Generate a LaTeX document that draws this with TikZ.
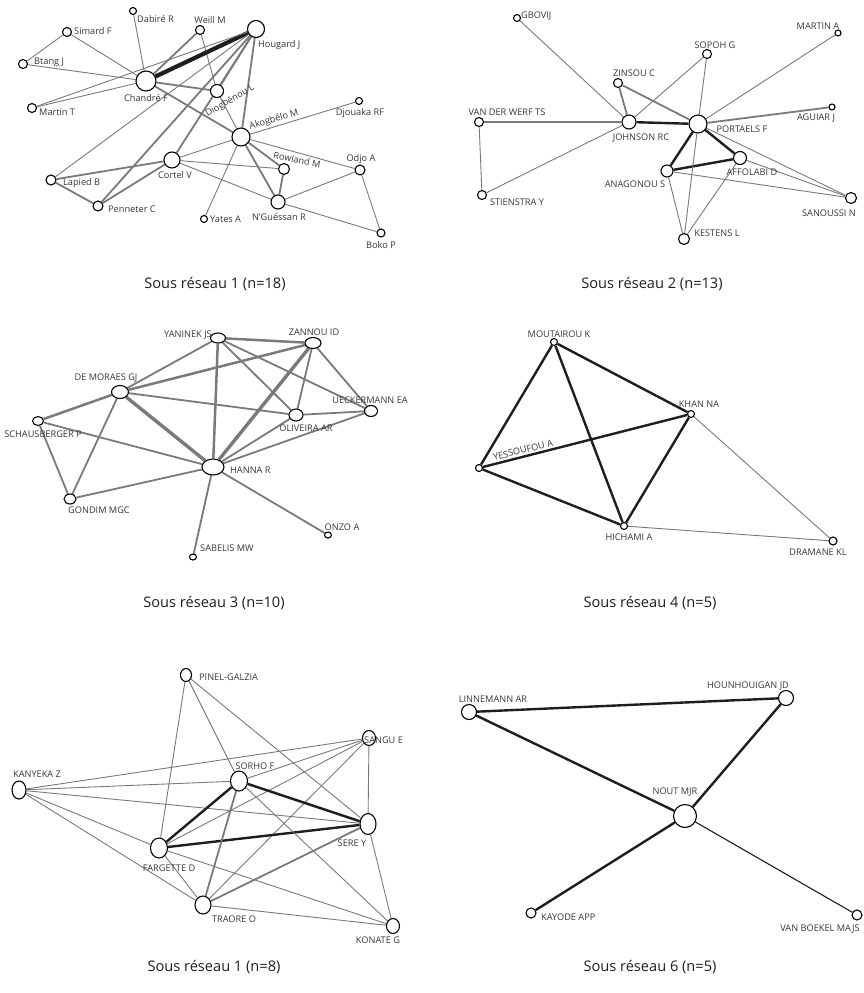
\documentclass[tikz,border=0pt]{standalone}
\usepackage{fontspec}
\setmainfont{Open Sans}
\usetikzlibrary{shapes.geometric,backgrounds}
\definecolor{edg}{RGB}{122,122,122}
\definecolor{blk}{RGB}{30,30,30}
\definecolor{labc}{RGB}{55,55,55}
\begin{document}
\begin{tikzpicture}[x=1pt,y=-1pt,
  nd/.style={ellipse,draw=black,fill=white,line width=1.1pt,inner sep=0pt},
  lbl/.style={font=\fontsize{9.2}{10}\selectfont,text=labc,inner sep=0pt},
  ulbl/.style={font=\fontsize{9.2}{10}\selectfont,text=labc,inner sep=0pt},
  captxt/.style={font=\fontsize{14.6}{16}\selectfont,text=blk,inner sep=0pt},
  thn/.style={draw=edg,line width=0.9pt},
  med/.style={draw=edg,line width=1.8pt},
  thk/.style={draw=edg,line width=2.5pt},
  vthk/.style={draw=edg,line width=3.4pt},
  bk/.style={draw=blk,line width=2.4pt},
  bkthn/.style={draw=blk,line width=1.1pt},
  bkvthk/.style={draw=blk,line width=4.2pt}]
\begin{scope}[on background layer]
\fill[white] (0,0) rectangle (864,993);
\end{scope}
\useasboundingbox (0,0) rectangle (864,993);
\newcommand{\mkc}[4]{\node[nd,minimum width=#3pt,minimum height=#3pt] (#1) at (#2) {};}
\newcommand{\mke}[5]{\node[nd,minimum width=#3pt,minimum height=#4pt] (#1) at (#2) {};}
% ---------------- Panel 1
\mkc{simard}{67,32}{9}{}
\mkc{btang}{23,64}{9}{}
\mkc{dabire}{133,11}{7}{}
\mkc{weill}{200,30}{9}{}
\mkc{hougard}{256,29}{17}{}
\mkc{chandre}{146,81}{20}{}
\mkc{martint}{32,108}{9}{}
\mkc{diog}{217,91}{13}{}
\mkc{akog}{241,137}{18}{}
\mkc{djouaka}{359,101}{7}{}
\mkc{cortel}{172,160}{16}{}
\mkc{rowland}{284,169}{11}{}
\mkc{odjo}{360,170}{10}{}
\mkc{lapied}{51,180}{10}{}
\mkc{penneter}{98,206}{10}{}
\mkc{nguessan}{278,202}{14}{}
\mkc{yates}{204,219}{7}{}
\mkc{boko}{381,233}{8}{}
\node[lbl,anchor=west] (lsimard) at (74,31) {Simard F};
\node[lbl,anchor=west] (lbtang) at (34,62) {Btang J};
\node[lbl,anchor=west] (ldabire) at (137,19) {Dabiré R};
\node[lbl] (lweill) at (210,20) {Weill M};
\node[lbl,anchor=west] (lhougard) at (258,45) {Hougard J};
\node[lbl] (lchandre) at (146,98) {Chandré F};
\node[lbl,anchor=west] (lmartint) at (39,112) {Martin T};
\node[lbl,rotate=30] (ldiog) at (230,101) {Diogbénou L};
\node[lbl,rotate=16] (lakog) at (274,120) {Akogbélo M};
\node[lbl] (ldjouaka) at (360,113) {Djouaka RF};
\node[lbl,rotate=-11] (lrowland) at (297,160) {Rowland M};
\node[lbl] (lodjo) at (361,159) {Odjo A};
\node[lbl] (lcortel) at (175,175) {Cortel V};
\node[lbl,anchor=west] (llapied) at (63,183) {Lapied B};
\node[lbl,anchor=west] (lpenneter) at (108,209) {Penneter C};
\node[lbl] (lnguessan) at (279,217) {N’Guéssan R};
\node[lbl,anchor=west] (lyates) at (210,219) {Yates A};
\node[lbl] (lboko) at (381,245) {Boko P};
\node[captxt] (cap1) at (215,284) {Sous réseau 1 (n=18)};
% ---------------- Panel 2
\mkc{gbovij}{517,18}{7}{}
\mkc{martina}{838,33}{6}{}
\mkc{sopoh}{707,54}{9}{}
\mkc{zinsou}{618,83}{9}{}
\mkc{vdw}{479,122}{9}{}
\mkc{johnson}{629,122}{14}{}
\mkc{portaels}{698,124}{18}{}
\mkc{aguiar}{832,107}{6}{}
\mkc{affolabi}{740,158}{13}{}
\mkc{anagonou}{667,171}{12}{}
\mkc{stienstra}{482,195}{9}{}
\mkc{sanoussi}{851,198}{11}{}
\mkc{kestens}{684,239}{11}{}
\node[ulbl,anchor=west] (lgbovij) at (521,16) {GBOVIJ};
\node[ulbl] (lmartina) at (818,26) {MARTIN A};
\node[ulbl] (lsopoh) at (715,45) {SOPOH G};
\node[ulbl] (lzinsou) at (634,73) {ZINSOU C};
\node[ulbl] (lvdw) at (507,112) {VAN DER WERF TS};
\node[ulbl] (ljohnson) at (641,138) {JOHNSON RC};
\node[ulbl] (lportaels) at (742,129) {PORTAELS F};
\node[ulbl] (laguiar) at (816,118) {AGUIAR J};
\node[ulbl] (laffolabi) at (752,172) {AFFOLABI D};
\node[ulbl] (lanagonou) at (635,184) {ANAGONOU S};
\node[ulbl] (lstienstra) at (517,202) {STIENSTRA Y};
\node[ulbl] (lsanoussi) at (829,213) {SANOUSSI N};
\node[ulbl] (lkestens) at (717,233) {KESTENS L};
\node[captxt] (cap2) at (652,284) {Sous réseau 2 (n=13)};
% ---------------- Panel 3
\mke{yaninek}{218,338}{15}{10}{}
\mke{zannou}{313,343}{16}{11}{}
\mke{demoraes}{120,392}{17}{13}{}
\mke{schaus}{38,421}{11}{9}{}
\mke{oliveira}{296,415}{14}{12}{}
\mke{ueck}{371,411}{13}{11}{}
\mke{hanna}{213,467}{22}{16}{}
\mke{gondim}{70,499}{12}{10}{}
\mke{onzo}{328,535}{7}{6}{}
\mke{sabelis}{193,557}{7}{6}{}
\node[ulbl] (lyaninek) at (188,335) {YANINEK JS};
\node[ulbl] (lzannou) at (314,332) {ZANNOU ID};
\node[ulbl] (ldemoraes) at (106,378) {DE MORAES GJ};
\node[ulbl] (lschaus) at (43,434) {SCHAUSBERGER P};
\node[ulbl] (loliveira) at (306,428) {OLIVEIRA AR};
\node[ulbl] (lueck) at (370,400) {UECKERMANN EA};
\node[ulbl,anchor=west] (lhanna) at (230,470) {HANNA R};
\node[ulbl] (lgondim) at (99,510) {GONDIM MGC};
\node[ulbl] (lonzo) at (342,527) {ONZO A};
\node[ulbl,anchor=west] (lsabelis) at (200,548) {SABELIS MW};
\node[captxt] (cap3) at (214,603) {Sous réseau 3 (n=10)};
% ---------------- Panel 4
\mkc{mout}{554,342}{7}{}
\mkc{khan}{691,414}{7}{}
\mkc{yess}{479,468}{7}{}
\mkc{hich}{624,526}{7}{}
\mkc{dramane}{833,541}{8}{}
\node[ulbl] (lmout) at (559,334) {MOUTAIROU K};
\node[ulbl] (lkhan) at (699,404) {KHAN NA};
\node[ulbl,rotate=14] (lyess) at (523,450) {YESSOUFOU A};
\node[ulbl] (lhich) at (629,537) {HICHAMI A};
\node[ulbl] (ldramane) at (818,552) {DRAMANE KL};
\node[captxt] (cap4) at (650,603) {Sous réseau 4 (n=5)};
% ---------------- Panel 5
\mke{pinel}{186,675}{11}{13}{}
\mke{sangu}{369,738}{13}{15}{}
\mke{kanyeka}{19,790}{14}{18}{}
\mke{sorho}{239,781}{17}{20}{}
\mke{sere}{368,824}{16}{21}{}
\mke{fargette}{159,848}{17}{20}{}
\mke{traore}{203,905}{16}{18}{}
\mke{konate}{393,926}{13}{15}{}
\node[ulbl,anchor=west] (lpinel) at (199,677) {PINEL-GALZIA};
\node[ulbl,anchor=west] (lsangu) at (364,740) {SANGU E};
\node[ulbl] (lkanyeka) at (37,774) {KANYEKA Z};
\node[ulbl] (lsorho) at (255,766) {SORHO F};
\node[ulbl] (lsere) at (352,843) {SERE Y};
\node[ulbl] (lfargette) at (169,868) {FARGETTE D};
\node[ulbl] (ltraore) at (234,919) {TRAORE O};
\node[ulbl] (lkonate) at (378,940) {KONATE G};
\node[captxt] (cap5) at (214,967) {Sous réseau 1 (n=8)};
% ---------------- Panel 6
\mkc{linnemann}{469,712}{15}{}
\mkc{hounh}{786,698}{15}{}
\mkc{nout}{685,816}{23}{}
\mkc{kayode}{531,913}{10}{}
\mkc{vanboekel}{857,915}{10}{}
\node[ulbl] (llinnemann) at (493,699) {LINNEMANN AR};
\node[ulbl] (lhounh) at (748,686) {HOUNHOUIGAN JD};
\node[ulbl] (lnout) at (675,792) {NOUT MJR};
\node[ulbl,anchor=west] (lkayode) at (541,917) {KAYODE APP};
\node[ulbl] (lvanboekel) at (820,929) {VAN BOEKEL MAJS};
\node[captxt] (cap6) at (650,967) {Sous réseau 6 (n=5)};
% ---------------- Edges
\begin{scope}[on background layer]
% panel 1
\draw[thn] (simard) -- (btang);
\draw[thn] (simard) -- (chandre);
\draw[thn] (btang) -- (chandre);
\draw[thn] (dabire) -- (chandre);
\draw[med] (weill) -- (chandre);
\draw[thn] (weill) -- (diog);
\draw[thn] (diog) -- (akog);
\draw[bkvthk] (hougard) -- (chandre);
\draw[thn] (hougard) -- (martint);
\draw[thn] (chandre) -- (martint);
\draw[thn] (hougard) -- (lapied);
\draw[med] (hougard) -- (penneter);
\draw[med] (hougard) -- (cortel);
\draw[med] (hougard) -- (diog);
\draw[med] (hougard) -- (akog);
\draw[med] (chandre) -- (diog);
\draw[med] (chandre) -- (akog);
\draw[thn] (cortel) -- (akog);
\draw[thn] (cortel) -- (rowland);
\draw[thn] (cortel) -- (nguessan);
\draw[med] (cortel) -- (lapied);
\draw[med] (cortel) -- (penneter);
\draw[med] (lapied) -- (penneter);
\draw[thn] (akog) -- (djouaka);
\draw[med] (akog) -- (rowland);
\draw[med] (akog) -- (nguessan);
\draw[thn] (akog) -- (odjo);
\draw[thn] (akog) -- (yates);
\draw[med] (rowland) -- (nguessan);
\draw[thn] (nguessan) -- (odjo);
\draw[thn] (nguessan) -- (boko);
\draw[thn] (odjo) -- (boko);
% panel 2
\draw[thn] (gbovij) -- (johnson);
\draw[med] (vdw) -- (johnson);
\draw[thn] (vdw) -- (stienstra);
\draw[thn] (stienstra) -- (johnson);
\draw[thn] (sopoh) -- (johnson);
\draw[thn] (sopoh) -- (portaels);
\draw[med] (zinsou) -- (johnson);
\draw[med] (zinsou) -- (portaels);
\draw[bk] (johnson) -- (portaels);
\draw[thn] (martina) -- (portaels);
\draw[med] (aguiar) -- (portaels);
\draw[bk] (portaels) -- (affolabi);
\draw[bk] (portaels) -- (anagonou);
\draw[bk] (anagonou) -- (affolabi);
\draw[thn] (portaels) -- (sanoussi);
\draw[thn] (portaels) -- (kestens);
\draw[thn] (affolabi) -- (sanoussi);
\draw[thn] (anagonou) -- (sanoussi);
\draw[thn] (anagonou) -- (kestens);
\draw[thn] (affolabi) -- (kestens);
% panel 3
\draw[thk] (yaninek) -- (zannou);
\draw[med] (yaninek) -- (demoraes);
\draw[thk] (yaninek) -- (hanna);
\draw[med] (yaninek) -- (oliveira);
\draw[med] (yaninek) -- (ueck);
\draw[thk] (zannou) -- (demoraes);
\draw[vthk] (zannou) -- (hanna);
\draw[med] (zannou) -- (oliveira);
\draw[med] (zannou) -- (ueck);
\draw[thk] (demoraes) -- (schaus);
\draw[med] (demoraes) -- (gondim);
\draw[vthk] (demoraes) -- (hanna);
\draw[med] (demoraes) -- (oliveira);
\draw[med] (schaus) -- (gondim);
\draw[med] (schaus) -- (hanna);
\draw[med] (gondim) -- (hanna);
\draw[med] (oliveira) -- (ueck);
\draw[med] (oliveira) -- (hanna);
\draw[med] (ueck) -- (hanna);
\draw[med] (hanna) -- (onzo);
\draw[med] (hanna) -- (sabelis);
% panel 4
\draw[bk] (mout) -- (khan);
\draw[bk] (mout) -- (yess);
\draw[bk] (mout) -- (hich);
\draw[bk] (yess) -- (khan);
\draw[bk] (yess) -- (hich);
\draw[bk] (khan) -- (hich);
\draw[thn] (khan) -- (dramane);
\draw[thn] (hich) -- (dramane);
% panel 5
\draw[thn] (pinel) -- (fargette);
\draw[thn] (pinel) -- (sorho);
\draw[thn] (pinel) -- (sere);
\draw[thn] (sangu) -- (kanyeka);
\draw[thn] (sangu) -- (sorho);
\draw[thn] (sangu) -- (fargette);
\draw[thn] (sangu) -- (traore);
\draw[thn] (sangu) -- (sere);
\draw[thn] (kanyeka) -- (sorho);
\draw[thn] (kanyeka) -- (sere);
\draw[thn] (kanyeka) -- (fargette);
\draw[thn] (kanyeka) -- (traore);
\draw[bk] (sorho) -- (fargette);
\draw[bk] (sorho) -- (sere);
\draw[bk] (fargette) -- (sere);
\draw[med] (sorho) -- (traore);
\draw[thn] (sorho) -- (konate);
\draw[thn] (fargette) -- (traore);
\draw[thn] (fargette) -- (konate);
\draw[med] (sere) -- (traore);
\draw[thn] (sere) -- (konate);
\draw[thn] (traore) -- (konate);
% panel 6
\draw[bk] (linnemann) -- (hounh);
\draw[bk] (linnemann) -- (nout);
\draw[bk] (hounh) -- (nout);
\draw[bk] (kayode) -- (nout);
\draw[bkthn] (nout) -- (vanboekel);
\end{scope}
\end{tikzpicture}
\end{document}
